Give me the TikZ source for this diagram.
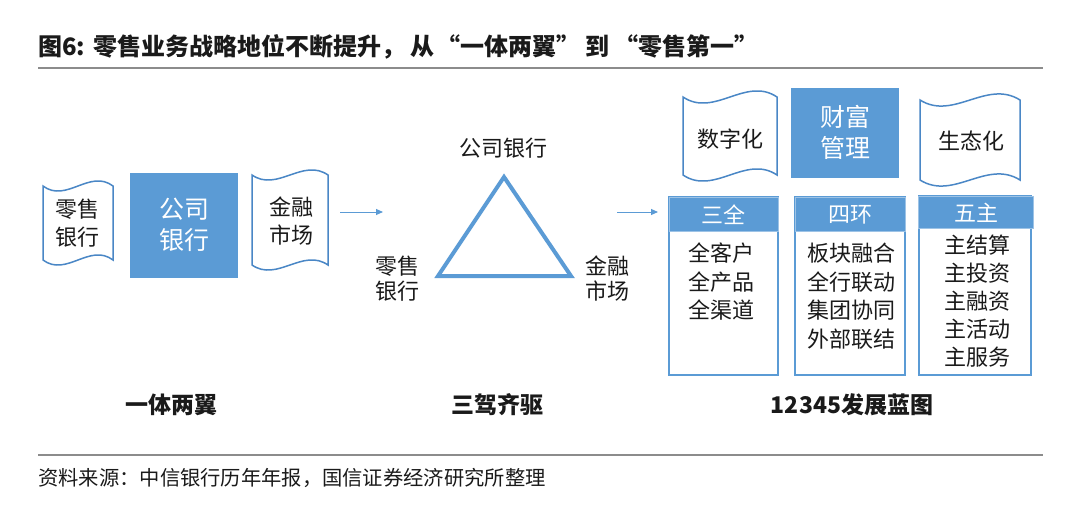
\documentclass[tikz,border=0pt]{standalone}
\usepackage{fontspec}
\setmainfont{Noto Sans CJK SC}
\usetikzlibrary{arrows.meta}
\definecolor{bl}{HTML}{5B9BD5}
\definecolor{bld}{HTML}{4A87C6}
\definecolor{txt}{HTML}{1A1A1A}
\definecolor{rulegray}{HTML}{8C8C8C}
\newcommand{\oq}{\makebox[1em][r]{“}}
\newcommand{\cq}{\makebox[1em][l]{”}}
\begin{document}
\begin{tikzpicture}[x=1pt,y=-1pt,
  tapeshp/.style={draw=bld,line width=1.5pt,fill=white},
  bluebox/.style={fill=bl,draw=none},
  lbl/.style={text=txt,align=center,font=\fontsize{22}{28}\selectfont},
  wlbl/.style={text=white,align=center,font=\fontsize{25}{31}\selectfont},
  hlbl/.style={text=white,font=\fontsize{22}{28}\selectfont},
  captxt/.style={text=txt,font=\bfseries\fontsize{23}{27}\selectfont},
  flow/.style={draw=bl,line width=1pt,-{Triangle[length=7pt,width=6pt]}},
  boxframe/.style={draw=bl,line width=2pt,fill=white},
  boxhead/.style={fill=bl,draw=bl!60,line width=0.8pt},
  rl/.style={draw=rulegray,line width=2.5pt}]
\useasboundingbox (0,0) rectangle (1080,511);
\fill[white] (0,0) rectangle (1080,511);

% title and rules
\node[text=txt,font=\bfseries\fontsize{24}{28}\selectfont,anchor=west,inner sep=0] (title) at (38,47) {图6:\hspace{0.35em}零售业务战略地位不断提升，\hspace{0.2em}从\hspace{0.1em}\oq 一体两翼\cq\hspace{0.2em}到\hspace{0.2em}\oq 零售第一\cq};
\coordinate (r1a) at (38,68); \coordinate (r1b) at (1043,68);
\draw[rl] (r1a) -- (r1b);
\coordinate (r2a) at (38,455); \coordinate (r2b) at (1043,455);
\draw[rl] (r2a) -- (r2b);
\node[text=txt,anchor=west,inner sep=0,font=\fontsize{20.3}{24}\selectfont] (src) at (38,478) {资料来源：中信银行历年年报，国信证券经济研究所整理};

% left group
\draw[tapeshp] (43,186) .. controls (66.3,203.5) and (89.7,168.5) .. (113,186) -- (113,260) .. controls (89.7,242.5) and (66.3,277.5) .. (43,260) -- cycle;
\node[lbl] (retail1) at (78,223) {零售\\银行};
\fill[bluebox] (130,173) rectangle (238,278);
\node[wlbl] (corp1) at (184,225) {公司\\银行};
\draw[tapeshp] (252,175) .. controls (277.3,192.5) and (302.7,157.5) .. (328,175) -- (328,265) .. controls (302.7,247.5) and (277.3,282.5) .. (252,265) -- cycle;
\node[lbl] (fm1) at (291,221) {金融\\市场};
\node[captxt] (c1) at (171,405) {一体两翼};

% arrow 1
\coordinate (a1s) at (340,212); \coordinate (a1e) at (383,212);
\draw[flow] (a1s) -- (a1e);

% triangle
\coordinate (tA) at (504,177); \coordinate (tB) at (438,276); \coordinate (tC) at (571,276);
\draw[bl,line width=4pt,line join=miter] (tA) -- (tB) -- (tC) -- cycle;
\node[lbl] (corp2) at (503,148) {公司银行};
\node[lbl,font=\fontsize{22}{25}\selectfont] (retail2) at (397,279) {零售\\银行};
\node[lbl,font=\fontsize{22}{25}\selectfont] (fm2) at (607,279) {金融\\市场};
\node[captxt] (c2) at (497,405) {三驾齐驱};

% arrow 2
\coordinate (a2s) at (617,212); \coordinate (a2e) at (658,212);
\draw[flow] (a2s) -- (a2e);

% right group top
\draw[tapeshp] (683,97) .. controls (714.3,118) and (745.7,76) .. (777,97) -- (777,175) .. controls (745.7,154) and (714.3,196) .. (683,175) -- cycle;
\node[lbl] (dig) at (730,139) {数字化};
\fill[bluebox] (791,88) rectangle (899,178);
\node[wlbl] (wm) at (845,132) {财富\\管理};
\draw[tapeshp] (920,100) .. controls (953.3,121) and (986.7,79) .. (1020,100) -- (1020,180) .. controls (986.7,159) and (953.3,201) .. (920,180) -- cycle;
\node[lbl] (eco) at (971,141) {生态化};

% right group boxes
\draw[boxframe] (669,197) rectangle (778,375);
\draw[boxhead] (669,197) rectangle (778,231);
\node[hlbl] (h1) at (723,215) {三全};
\node[lbl,font=\fontsize{22}{28.5}\selectfont] (b1) at (721,282) {全客户\\全产品\\全渠道};

\draw[boxframe] (795,197) rectangle (905,375);
\draw[boxhead] (795,197) rectangle (905,231);
\node[hlbl] (h2) at (850,215) {四环};
\node[lbl,font=\fontsize{22}{28.5}\selectfont] (b2) at (851,296) {板块融合\\全行联动\\集团协同\\外部联结};

\draw[boxframe] (919,196) rectangle (1031,375);
\draw[boxhead] (918,196) rectangle (1033,228);
\node[hlbl] (h3) at (976,213) {五主};
\node[lbl,font=\fontsize{22}{28}\selectfont] (b3) at (977,301) {主结算\\主投资\\主融资\\主活动\\主服务};

\node[captxt] (c3) at (852,405) {12345发展蓝图};
\end{tikzpicture}
\end{document}
